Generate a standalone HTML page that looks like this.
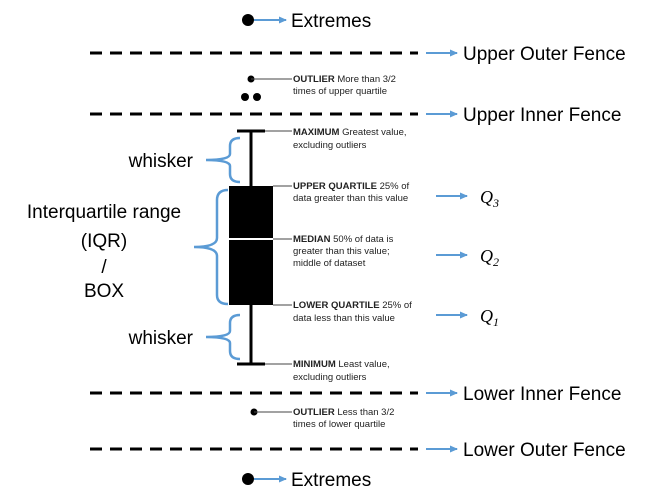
<!DOCTYPE html>
<html><head><meta charset="utf-8"><style>
html,body{margin:0;padding:0;background:#fff;width:660px;height:503px;overflow:hidden}
svg{display:block}
.big{font-family:"Liberation Sans","Noto Sans CJK KR",sans-serif;font-size:19px;fill:#000}
.sm{font-family:"Liberation Sans",sans-serif;font-size:9.5px;fill:#222}
.b{font-weight:bold}
.q{font-family:"Liberation Serif",serif;font-style:italic;font-size:18px}
</style></head><body>
<svg width="660" height="503" viewBox="0 0 660 503">
<defs><marker id="a" markerWidth="8" markerHeight="8" refX="7" refY="4" orient="auto" markerUnits="userSpaceOnUse"><path d="M0,0.5 L8,4 L0,7.5z" fill="#5b9bd5"/></marker></defs>
<g stroke="#000" stroke-width="3" stroke-dasharray="12,8">
<line x1="90" y1="53" x2="418" y2="53"/><line x1="90" y1="114" x2="418" y2="114"/>
<line x1="90" y1="393" x2="418" y2="393"/><line x1="90" y1="449" x2="418" y2="449"/>
</g>
<g stroke="#5b9bd5" stroke-width="2" marker-end="url(#a)">
<line x1="426" y1="53" x2="457" y2="53"/><line x1="426" y1="114" x2="457" y2="114"/>
<line x1="426" y1="393" x2="457" y2="393"/><line x1="426" y1="449" x2="457" y2="449"/>
<line x1="254" y1="20" x2="286" y2="20"/><line x1="254" y1="479" x2="286" y2="479"/>
<line x1="436" y1="196" x2="467" y2="196"/><line x1="436" y1="255" x2="467" y2="255"/><line x1="436" y1="315" x2="467" y2="315"/>
</g>
<g class="big">
<text x="463" y="60">Upper Outer Fence</text><text x="463" y="121">Upper Inner Fence</text>
<text x="463" y="400">Lower Inner Fence</text><text x="463" y="456">Lower Outer Fence</text>
<text x="291" y="27">Extremes</text><text x="291" y="486">Extremes</text>
<text x="193" y="167" text-anchor="end">whisker</text><text x="193" y="344" text-anchor="end">whisker</text>
<text x="104" y="218" text-anchor="middle">Interquartile  range</text>
<text x="104" y="247" text-anchor="middle">(IQR)</text>
<text x="104" y="273" text-anchor="middle">/</text>
<text x="104" y="297" text-anchor="middle">BOX</text>
</g>
<g class="q"><text x="480" y="203">Q<tspan font-size="12" dy="4">3</tspan></text><text x="480" y="262">Q<tspan font-size="12" dy="4">2</tspan></text><text x="480" y="322">Q<tspan font-size="12" dy="4">1</tspan></text></g>
<circle cx="248" cy="20" r="6"/><circle cx="248" cy="479" r="6"/>
<circle cx="251" cy="79" r="3.5"/><circle cx="245" cy="97" r="4"/><circle cx="257" cy="97" r="4"/><circle cx="254" cy="412" r="3.5"/>
<g stroke="#444" stroke-width="1">
<line x1="251" y1="79" x2="292" y2="79"/><line x1="254" y1="412" x2="292" y2="412"/>
<line x1="265" y1="131" x2="292" y2="131"/><line x1="273" y1="186" x2="292" y2="186"/>
<line x1="273" y1="239" x2="292" y2="239"/><line x1="273" y1="305" x2="292" y2="305"/><line x1="265" y1="364" x2="292" y2="364"/>
</g>
<g stroke="#000" stroke-width="3"><line x1="251" y1="131" x2="251" y2="364"/><line x1="237" y1="131" x2="265" y2="131"/><line x1="237" y1="364" x2="265" y2="364"/></g>
<rect x="229" y="186" width="44" height="119" fill="#000"/>
<line x1="229" y1="239" x2="273" y2="239" stroke="#fff" stroke-width="2"/>
<g fill="none" stroke="#5b9bd5" stroke-width="2.5">
<path d="M240,138 Q230,138 230,146 L230,154 Q230,160 206,160 Q230,160 230,166 L230,174 Q230,182 240,182"/>
<path d="M228,190 Q217,190 217,200 L217,238 Q217,247 194,247 Q217,247 217,256 L217,295 Q217,304 228,304"/>
<path d="M240,315 Q230,315 230,323 L230,331 Q230,337 206,337 Q230,337 230,343 L230,351 Q230,359 240,359"/>
</g>
<g class="sm">
<text x="293" y="82"><tspan class="b">OUTLIER</tspan>  More than 3/2</text><text x="293" y="94">times of upper quartile</text>
<text x="293" y="135"><tspan class="b">MAXIMUM</tspan>  Greatest value,</text><text x="293" y="148">excluding outliers</text>
<text x="293" y="189"><tspan class="b">UPPER QUARTILE</tspan>  25% of</text><text x="293" y="201">data greater than this value</text>
<text x="293" y="242"><tspan class="b">MEDIAN</tspan>  50% of data is</text><text x="293" y="254">greater than this value;</text><text x="293" y="266">middle of dataset</text>
<text x="293" y="308"><tspan class="b">LOWER QUARTILE</tspan>  25% of</text><text x="293" y="321">data less than this value</text>
<text x="293" y="367"><tspan class="b">MINIMUM</tspan>  Least value,</text><text x="293" y="380">excluding outliers</text>
<text x="293" y="415"><tspan class="b">OUTLIER</tspan>  Less than 3/2</text><text x="293" y="427">times of lower quartile</text>
</g>
</svg>
</body></html>
